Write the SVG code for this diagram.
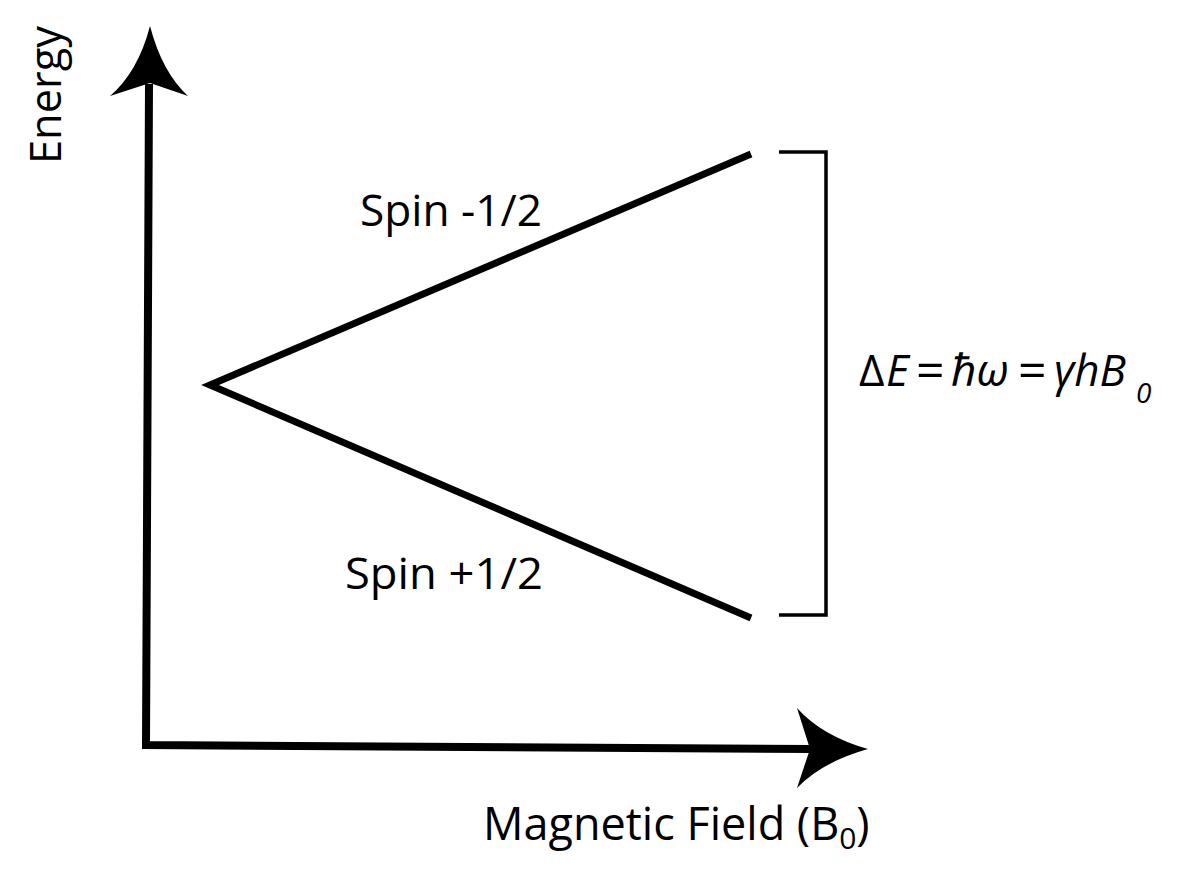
<svg xmlns="http://www.w3.org/2000/svg" width="1198" height="873" viewBox="0 0 1198 873">
<style>
.t{font-family:"Open Sans","Noto Sans","DejaVu Sans",sans-serif;fill:#000}
.ln{stroke:#000;fill:none;stroke-linecap:butt}
.i{font-style:italic}
</style>
<rect width="1198" height="873" fill="#fff"/>
<g id="axes">
<path class="ln" stroke-width="8" d="M149,84 L146,745 L811,749"/>
<path d="M150,26 Q138,72 110,96 L150,83 L188,96 Q162,72 150,26 Z" fill="#000"/>
<path d="M868,749 Q822,736 797,708 L810,749 L797,788 Q822,762 868,749 Z" fill="#000"/>
</g>
<g id="connectors">
<path class="ln" stroke-width="7" d="M751,154 L210,385 L751,618"/>
<path class="ln" stroke-width="3.5" d="M779,152 L826,152 L826,615 L779,615"/>
</g>
<g id="labels">
<text class="t" font-size="44" transform="translate(61,164) rotate(-90)" textLength="138" lengthAdjust="spacingAndGlyphs">Energy</text>
<text class="t" font-size="44" x="360" y="226" textLength="182" lengthAdjust="spacingAndGlyphs">Spin -1/2</text>
<text class="t" font-size="44" x="345" y="589" textLength="198" lengthAdjust="spacingAndGlyphs">Spin +1/2</text>
<text class="t" font-size="45" x="483" y="840">Magnetic Field (B<tspan font-size="30" dy="9">0</tspan><tspan dy="-9">)</tspan></text>
<text class="t" font-size="44" y="386"><tspan x="859">Δ</tspan><tspan class="i" x="886">E</tspan><tspan font-size="50" x="916" y="388">=</tspan><tspan class="i" x="951" y="386">ℏω</tspan><tspan font-size="50" x="1018" y="388">=</tspan><tspan class="i" x="1054" y="386">γhB</tspan><tspan class="i" font-size="28" x="1136" y="403">0</tspan></text>
</g>
</svg>
